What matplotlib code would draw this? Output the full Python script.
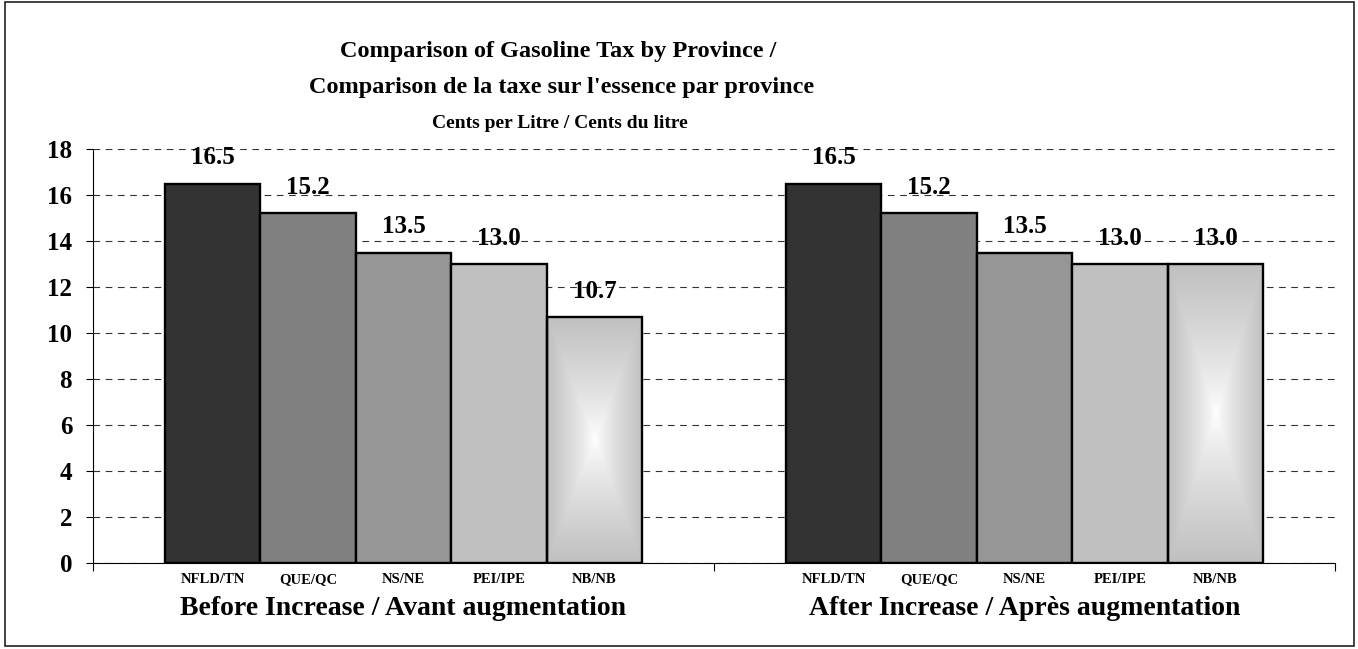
import numpy as np
import matplotlib
matplotlib.use("Agg")
import matplotlib.pyplot as plt
from matplotlib.patches import Rectangle
from matplotlib.colors import LinearSegmentedColormap

provinces = ["NFLD/TN", "QUE/QC", "NS/NE", "PEI/IPE", "NB/NB"]
groups = ["Before Increase / Avant augmentation", "After Increase / Après augmentation"]
before = [16.5, 15.2, 13.5, 13.0, 10.7]
after = [16.5, 15.2, 13.5, 13.0, 13.0]
values = [before, after]
bar_colors = ["#333333", "#808080", "#969696", "#C0C0C0", None]  # None -> gradient fill
yticks = [0, 2, 4, 6, 8, 10, 12, 14, 16, 18]

plt.rcParams["font.family"] = ["Liberation Serif", "DejaVu Serif"]
plt.rcParams["font.weight"] = "bold"

fig = plt.figure(figsize=(13.58, 6.49), dpi=100)
W, H = 1358, 649
ax = fig.add_axes([93 / W, 86 / H, (1335 - 93) / W, (563 - 149) / H])

bw = 95.5 / 621
start = (621 - 5 * 95.5) / 2 / 621
grad_cmap = LinearSegmentedColormap.from_list("g", ["#FFFFFF", "#C0C0C0"])
u = np.linspace(-1, 1, 200)
uu, vv = np.meshgrid(u, u)
grad = np.maximum(np.abs(uu), np.abs(vv)) ** 0.8

for g, vals in enumerate(values):
    for i, v in enumerate(vals):
        x0 = g + start + i * bw
        if bar_colors[i] is None:
            ax.imshow(grad, extent=[x0, x0 + bw, 0, v], aspect="auto",
                      cmap=grad_cmap, vmin=0, vmax=1, zorder=2, interpolation="bilinear")
            ax.bar(x0, v, width=bw, align="edge", facecolor="none",
                   edgecolor="black", linewidth=1.7, zorder=3)
        else:
            ax.bar(x0, v, width=bw, align="edge", facecolor=bar_colors[i],
                   edgecolor="black", linewidth=1.7, zorder=3)
        ax.text(x0 + bw / 2, v + 0.62, f"{v:.1f}", ha="center", va="bottom",
                fontsize=18, fontweight="bold", zorder=4)
        ax.text(x0 + bw / 2, -0.42, provinces[i], ha="center", va="top",
                fontsize=10.5, fontweight="bold")
    ax.text(g + 0.5, -1.45, groups[g], ha="center", va="top",
            fontsize=20, fontweight="bold")

ax.set_xlim(0, 2)
ax.set_ylim(0, 18)
ax.set_yticks(yticks)
ax.set_yticklabels([str(t) for t in yticks], fontsize=18, fontweight="bold")
ax.set_xticks([0, 1, 2])
ax.set_xticklabels([])
ax.tick_params(axis="y", direction="out", length=5, width=0.8, pad=10)
ax.tick_params(axis="x", direction="out", length=6, width=0.8)
ax.yaxis.grid(True, linestyle=(0, (6, 5)), color="#333333", linewidth=0.8)
ax.set_axisbelow(True)
for s in ["top", "right"]:
    ax.spines[s].set_visible(False)
ax.spines["left"].set_linewidth(0.8)
ax.spines["bottom"].set_linewidth(0.8)

fig.text(558 / W, 1 - 52 / H, "Comparison of Gasoline Tax by Province /",
         ha="center", va="center", fontsize=17.5, fontweight="bold")
fig.text(562 / W, 1 - 87 / H, "Comparison de la taxe sur l'essence par province",
         ha="center", va="center", fontsize=17.5, fontweight="bold")
fig.text(560 / W, 1 - 123 / H, "Cents per Litre / Cents du litre",
         ha="center", va="center", fontsize=14, fontweight="bold")

fig.patches.append(Rectangle((5 / W, 3 / H), 1349 / W, 644 / H, transform=fig.transFigure,
                             fill=False, edgecolor="#222222", linewidth=1.2))

fig.savefig("out.png", dpi=100, facecolor="white")
